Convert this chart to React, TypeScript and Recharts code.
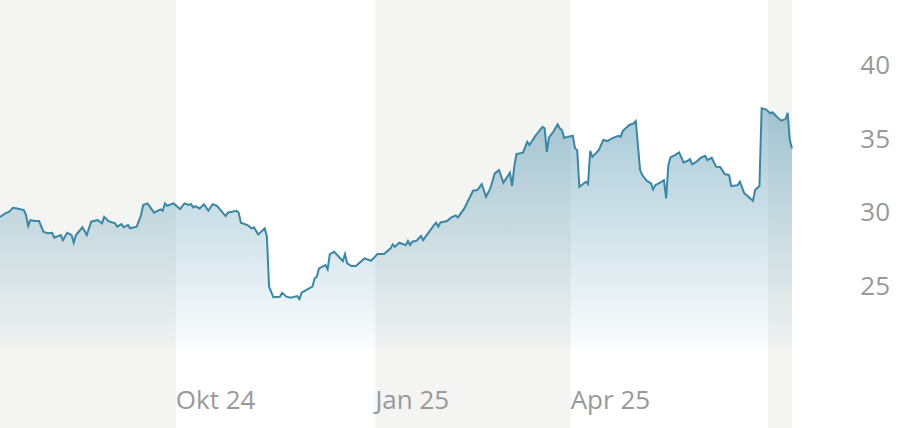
import { AreaChart, Area, XAxis, YAxis, ReferenceArea } from 'recharts'

// days since 12 Jul 2024
const days = [
  0, 3, 4, 6, 8, 11, 12, 13, 14, 16, 18, 20, 22, 24, 25, 28, 29, 31, 33, 34,
  35, 38, 40, 42, 45, 47, 48, 50, 53, 54, 56, 57, 59, 60, 63, 65, 66, 68, 71, 74,
  75, 76, 77, 80, 83, 85, 87, 88, 89, 90, 92, 94, 96, 98, 100, 104, 105, 109, 110, 111,
  114, 116, 117, 119, 122, 123, 124, 126, 129, 130, 132, 134, 137, 138, 139, 141, 144, 145, 146, 147,
  150, 151, 152, 154, 158, 159, 160, 162, 164, 168, 171, 174, 177, 180, 181, 182, 184, 187, 188, 189,
  190, 192, 194, 195, 197, 200, 201, 202, 203, 206, 208, 210, 211, 214, 218, 220, 222, 224, 226, 228,
  230, 232, 235, 236, 237, 238, 241, 243, 244, 246, 247, 250, 251, 252, 253, 255, 257, 258, 259, 260,
  262, 264, 265, 266, 267, 270, 271, 272, 273, 276, 278, 280, 282, 285, 286, 287, 290, 292, 293, 295,
  296, 298, 300, 301, 302, 304, 306, 307, 308, 309, 311, 313, 315, 317, 318, 319, 321, 323, 325, 326,
  328, 330, 332, 334, 336, 337, 340, 341, 343, 344, 347, 348, 350, 351, 353, 355, 356, 358, 360, 362,
  363, 364, 365,
]

const prices = [
  29.67, 29.95, 29.99, 30.28, 30.24, 30.13, 29.79, 29.06, 29.45, 29.38, 29.38, 28.66, 28.55, 28.59, 28.25, 28.43, 28.09, 28.59, 28.43, 27.91,
  28.43, 28.96, 28.43, 29.34, 29.45, 29.23, 29.67, 29.38, 29.23, 29.0, 29.18, 28.96, 29.11, 28.89, 29.0, 29.79, 30.47, 30.58, 29.95, 30.18,
  30.08, 30.58, 30.42, 30.58, 30.2, 30.58, 30.47, 30.54, 30.31, 30.4, 30.24, 30.52, 30.08, 30.52, 30.42, 29.72, 29.95, 30.08, 29.95, 29.27,
  29.11, 28.89, 28.96, 28.48, 28.89, 28.32, 24.93, 24.21, 24.25, 24.52, 24.25, 24.18, 24.29, 24.09, 24.52, 24.7, 24.93, 25.5, 25.6, 26.17,
  26.4, 26.11, 27.14, 27.3, 26.67, 27.14, 26.51, 26.33, 26.33, 26.85, 26.69, 27.14, 27.14, 27.53, 27.8, 27.64, 27.91, 27.75, 28.03, 27.75,
  27.98, 28.05, 28.37, 28.09, 28.5, 29.11, 29.27, 29.0, 29.29, 29.38, 29.63, 29.77, 29.63, 30.24, 31.44, 31.49, 31.89, 31.03, 31.6, 32.62,
  32.84, 31.98, 32.66, 31.76, 33.07, 33.93, 34.02, 34.76, 34.54, 34.99, 35.22, 35.78, 35.67, 34.08, 35.06, 35.44, 35.94, 35.67, 35.56, 35.03,
  35.1, 35.17, 34.31, 34.2, 31.71, 32.05, 31.89, 34.15, 33.74, 34.2, 34.88, 34.81, 34.99, 35.17, 35.1, 35.49, 35.9, 36.01, 36.17, 32.84,
  32.5, 32.12, 31.94, 31.53, 31.82, 31.98, 32.16, 30.92, 33.18, 33.7, 33.86, 34.04, 33.36, 33.47, 33.59, 33.23, 33.41, 33.68, 33.81, 33.52,
  33.68, 33.07, 33.03, 32.57, 32.5, 31.76, 31.82, 32.05, 31.26, 31.15, 30.76, 31.49, 31.76, 37.03, 36.96, 36.69, 36.76, 36.46, 36.19, 36.3,
  36.73, 34.88, 34.31,
]

const tickDays = [81, 173, 263]
const tickLabels = ['Okt 24', 'Jan 25', 'Apr 25']
const priceTicks = [25, 30, 35, 40]
// shaded quarters [from, to]
const bands = [[0, 81], [173, 263], [354, 365]]

const data = days.map((d, i) => ({ day: d, price: prices[i] }))

const FONT = '"Open Sans", sans-serif'
const TEXT = '#999999'
const LINE = '#3a86a5'
const Y_MIN = 20.77
const Y_MAX = 44.38

const XTick = ({ x, y, payload }: any) => (
  <text x={x} y={y} dy={61} textAnchor="start" fill={TEXT} fontSize={26} fontFamily={FONT}>
    {tickLabels[tickDays.indexOf(payload.value)]}
  </text>
)

const YTick = ({ x, y, payload }: any) => (
  <text x={x + 98} y={y} dy={9.5} textAnchor="end" fill={TEXT} fontSize={26} fontFamily={FONT}>
    {payload.value}
  </text>
)

export default function App() {
  return (
    <div style={{ position: 'absolute', left: 0, top: 0, background: '#fff' }}>
      <AreaChart width={902} height={428} data={data} margin={{ top: 0, right: 0, bottom: 0, left: 0 }}>
        <defs>
          <linearGradient id="priceFill" x1="0" y1="0" x2="0" y2="1">
            <stop offset="0%" stopColor={LINE} stopOpacity={0.45} />
            <stop offset="100%" stopColor={LINE} stopOpacity={0.02} />
          </linearGradient>
        </defs>
        {bands.map(([a, b]) => (
          <ReferenceArea
            key={a}
            x1={a}
            x2={b}
            y1={15.34}
            y2={Y_MAX}
            ifOverflow="visible"
            fill="#f4f4f2"
            fillOpacity={1}
            stroke="none"
          />
        ))}
        <XAxis
          dataKey="day"
          type="number"
          domain={[0, 365]}
          ticks={tickDays}
          height={80}
          axisLine={false}
          tickLine={false}
          tickSize={0}
          tickMargin={0}
          tick={<XTick />}
          interval={0}
        />
        <YAxis
          orientation="right"
          domain={[Y_MIN, Y_MAX]}
          allowDataOverflow
          ticks={priceTicks}
          width={110}
          axisLine={false}
          tickLine={false}
          tickSize={0}
          tickMargin={0}
          tick={<YTick />}
          interval={0}
        />
        <Area
          type="linear"
          dataKey="price"
          stroke={LINE}
          strokeWidth={2}
          fill="url(#priceFill)"
          fillOpacity={1}
          baseValue={Y_MIN}
          dot={false}
          activeDot={false}
          isAnimationActive={false}
        />
      </AreaChart>
    </div>
  )
}
